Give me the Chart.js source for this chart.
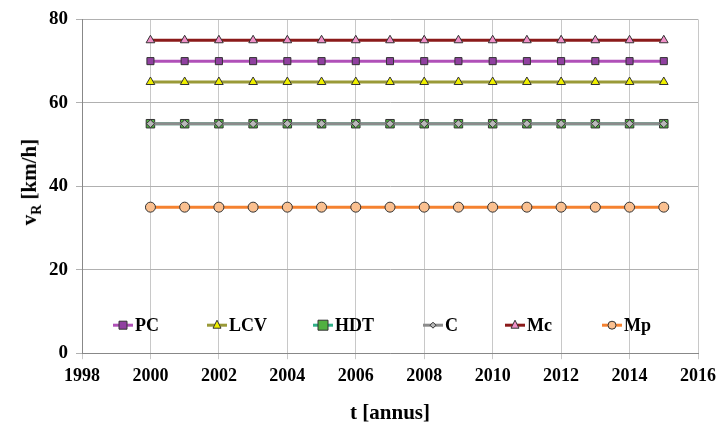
<!DOCTYPE html>
<html><head><meta charset="utf-8">
<script src="https://cdn.jsdelivr.net/npm/chart.js@4.4.0/dist/chart.umd.min.js"></script>
<style>
body{margin:0;background:#fff;}
#wrap{position:relative;width:718px;height:432px;}
#ylab{position:absolute;left:-24px;top:168px;width:110px;text-align:center;transform:rotate(-90deg);
 font:bold 21px "Liberation Serif";color:#000;white-space:nowrap;}
#ylab sub{font-size:14px;}
</style></head>
<body><div id="wrap"><canvas id="chart" width="718" height="432"></canvas><div id="ylab">v<sub>R</sub> [km/h]</div></div>
<script>
const years = [2000,2001,2002,2003,2004,2005,2006,2007,2008,2009,2010,2011,2012,2013,2014,2015];
const names = ["PC","LCV","HDT","C","Mc","Mp"];
const speeds = [70,65,55,55,75,35];
const lineColors = ["#B050B8","#9A9A38","#30B088","#8C8C8C","#8B1A1A","#F58230"];
const fillColors = ["#9040A0","#F0F000","#50B040","#B8B8B8","#F090C8","#FAC090"];
const shapes = ["rect","triangle","rect","rectRot","triangle","circle"];
const radii = [5,5,6,4,5,5];
const drawOrder = [2,2,3,1,2,2];
const legendX = [113,207,313,423,505,602];

const datasets = names.map((n,i)=>({
  label:n,
  data:years.map(y=>({x:y,y:speeds[i]})),
  order:drawOrder[i],
  borderColor:lineColors[i], borderWidth:3,
  pointStyle:shapes[i], pointRadius:radii[i],
  pointBackgroundColor:fillColors[i], pointBorderColor:"#333", pointBorderWidth:1
}));

const legendPlugin = {
  id:"inlegend",
  afterDraw(c){
    const g=c.ctx, a=c.chartArea;
    g.save();
    g.font='bold 18px "Liberation Serif"';
    g.textBaseline="middle";
    const y=a.bottom-28;
    names.forEach((n,i)=>{
      const x0=legendX[i];
      g.strokeStyle=lineColors[i]; g.lineWidth=3;
      g.beginPath(); g.moveTo(x0,y); g.lineTo(x0+20,y); g.stroke();
      g.fillStyle=fillColors[i]; g.strokeStyle="#333"; g.lineWidth=1;
      g.beginPath();
      const r=radii[i]-1;
      if(shapes[i]==="rect"){g.rect(x0+10-r,y-r,2*r,2*r);}
      else if(shapes[i]==="triangle"){g.moveTo(x0+10,y-r-1);g.lineTo(x0+10+r,y+r-1);g.lineTo(x0+10-r,y+r-1);g.closePath();}
      else if(shapes[i]==="rectRot"){g.moveTo(x0+10,y-r);g.lineTo(x0+10+r,y);g.lineTo(x0+10,y+r);g.lineTo(x0+10-r,y);g.closePath();}
      else {g.arc(x0+10,y,r,0,Math.PI*2);}
      g.fill(); g.stroke();
      g.fillStyle="#000"; g.fillText(n,x0+22,y+1);
    });
    g.restore();
  }
};

const tickFont = {family:"Liberation Serif",size:19,weight:"bold"};
new Chart(document.getElementById("chart"),{
  type:"line",
  data:{datasets},
  options:{
    responsive:false, animation:false,
    layout:{padding:{left:41,right:0,top:4,bottom:2}},
    plugins:{legend:{display:false},tooltip:{enabled:false}},
    scales:{
      x:{type:"linear",min:1998,max:2016,
        afterFit(s){s.paddingRight=20;},
        ticks:{stepSize:2,color:"#000",font:{family:"Liberation Serif",size:18,weight:"bold"},padding:6,callback:v=>String(v)},
        grid:{color:"#C8C8C8",tickLength:6},
        border:{color:"#888"},
        title:{display:true,text:"t [annus]",color:"#000",font:{family:"Liberation Serif",size:21,weight:"bold"},padding:{top:8}}},
      y:{min:0,max:80,
        ticks:{stepSize:20,color:"#000",font:tickFont,padding:8},
        grid:{color:"#B0B0B0",tickLength:6},
        border:{color:"#888"}}
    }
  },
  plugins:[legendPlugin]
});
</script></body></html>
